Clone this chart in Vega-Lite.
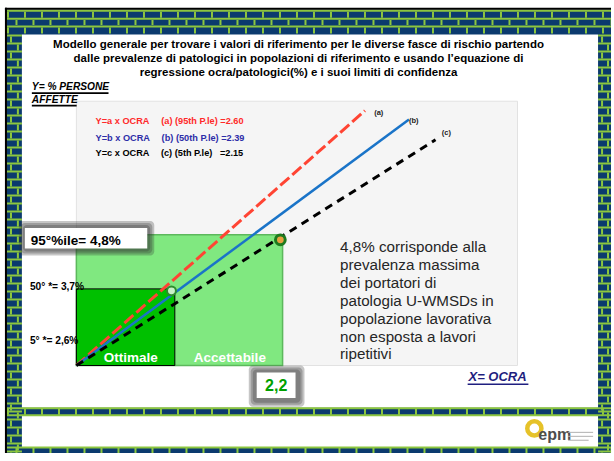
{
"$schema": "https://vega.github.io/schema/vega-lite/v6.json",
"width": 614, "height": 461,
"autosize": {"type": "fit", "contains": "padding"},
"padding": 0,
"background": "white",
"config": {"view": {"stroke": null}, "text": {"font": "Liberation Sans"}},
"encoding": {
  "x": {"field": "X", "type": "quantitative", "scale": {"domain": [-0.82, 5.74], "nice": false, "zero": false}, "axis": null},
  "y": {"field": "Y", "type": "quantitative", "scale": {"domain": [0.1, 10.04], "nice": false, "zero": false}, "axis": null}
},
"layer": [
  {"data": {"values": [{"X": -0.745, "X2": 5.74, "Y": 9.824, "Y2": 0.1}]},
   "mark": {"type": "rect", "fill": "#0b3a6e"},
   "encoding": {"x2": {"field": "X2"}, "y2": {"field": "Y2"}}},
  {"data": {"values": [{"X": -0.585, "X2": 5.601, "Y": 9.285, "Y2": 1.092}, {"X": -0.585, "X2": 5.601, "Y": 0.919, "Y2": 0.229}]},
   "mark": {"type": "rect", "fill": "white"},
   "encoding": {"x2": {"field": "X2"}, "y2": {"field": "Y2"}}},
  {"data": {"values": [{"X": -0.745, "X2": 5.74, "Y": 9.803}, {"X": -0.745, "X2": 5.74, "Y": 9.630}, {"X": -0.745, "X2": 5.74, "Y": 9.458}, {"X": -0.745, "X2": 5.74, "Y": 1.081}, {"X": -0.745, "X2": 5.74, "Y": 0.93}, {"X": -0.745, "X2": 5.74, "Y": 0.218}]},
   "mark": {"type": "rule", "stroke": "#8cc63f", "strokeWidth": 2},
   "encoding": {"x2": {"field": "X2"}}},
  {"data": {"values": [{"X": -0.745, "X2": 5.74, "Y": 9.717}, {"X": -0.745, "X2": 5.74, "Y": 9.372}, {"X": -0.745, "X2": 5.74, "Y": 1.006}]},
   "mark": {"type": "rule", "stroke": "#8cc63f", "strokeWidth": 6, "strokeDash": [2, 15], "strokeDashOffset": 0},
   "encoding": {"x2": {"field": "X2"}}},
  {"data": {"values": [{"X": -0.745, "X2": 5.74, "Y": 9.544}, {"X": -0.745, "X2": 5.74, "Y": 0.155}]},
   "mark": {"type": "rule", "stroke": "#8cc63f", "strokeWidth": 5, "strokeDash": [2, 15], "strokeDashOffset": 8.5},
   "encoding": {"x2": {"field": "X2"}}},
  {"data": {"values": [{"X": -0.665, "Y": 9.285, "Y2": 0.1}]},
   "mark": {"type": "rule", "stroke": "#8cc63f", "strokeWidth": 15, "strokeDash": [2, 6]},
   "encoding": {"y2": {"field": "Y2"}}},
  {"data": {"values": [{"X": 5.671, "Y": 9.285, "Y2": 0.1}]},
   "mark": {"type": "rule", "stroke": "#8cc63f", "strokeWidth": 13, "strokeDash": [2, 6]},
   "encoding": {"y2": {"field": "Y2"}}},
  {"data": {"values": [{"X": -0.702, "Y": 9.285, "Y2": 0.1}, {"X": 5.644, "Y": 9.285, "Y2": 0.1}]},
   "mark": {"type": "rule", "stroke": "#8cc63f", "strokeWidth": 2, "strokeDash": [6, 10], "strokeDashOffset": 14},
   "encoding": {"y2": {"field": "Y2"}}},
  {"data": {"values": [{"X": -0.628, "Y": 9.285, "Y2": 0.1}, {"X": 5.708, "Y": 9.285, "Y2": 0.1}]},
   "mark": {"type": "rule", "stroke": "#8cc63f", "strokeWidth": 2, "strokeDash": [6, 10], "strokeDashOffset": 6},
   "encoding": {"y2": {"field": "Y2"}}},
  {"data": {"values": [{"X": -0.767, "X2": 5.74, "Y": 9.868, "Y2": 9.824}, {"X": -0.767, "X2": -0.745, "Y": 9.868, "Y2": 0.1}]},
   "mark": {"type": "rect", "fill": "black"},
   "encoding": {"x2": {"field": "X2"}, "y2": {"field": "Y2"}}},

  {"data": {"values": [{"X": 0, "X2": 4.736, "Y": 2.02, "Y2": 7.819}]},
   "mark": {"type": "rect", "fill": "#f5f5f5", "stroke": "#e2e2e2", "strokeWidth": 1},
   "encoding": {"x2": {"field": "X2"}, "y2": {"field": "Y2"}}},
  {"data": {"values": [{"X": 0, "X2": 2.214, "Y": 2.02, "Y2": 4.887}]},
   "mark": {"type": "rect", "fill": "#80e880", "stroke": "#5cb85c", "strokeWidth": 1.5},
   "encoding": {"x2": {"field": "X2"}, "y2": {"field": "Y2"}}},
  {"data": {"values": [{"X": 0, "X2": 1.057, "Y": 2.02, "Y2": 3.701}]},
   "mark": {"type": "rect", "fill": "#00c000", "stroke": "black", "strokeWidth": 1},
   "encoding": {"x2": {"field": "X2"}, "y2": {"field": "Y2"}}},

  {"data": {"values": [{"X": 0, "Y": 2.02, "X2": 3.098, "Y2": 7.61}]},
   "mark": {"type": "rule", "stroke": "#ff4433", "strokeWidth": 3, "strokeDash": [12, 4]},
   "encoding": {"x2": {"field": "X2"}, "y2": {"field": "Y2"}}},
  {"data": {"values": [{"X": 0, "Y": 2.02, "X2": 3.571, "Y2": 7.416}]},
   "mark": {"type": "rule", "stroke": "#1a74c8", "strokeWidth": 2.5},
   "encoding": {"x2": {"field": "X2"}, "y2": {"field": "Y2"}}},
  {"data": {"values": [{"X": 0, "Y": 2.02, "X2": 3.856, "Y2": 6.972}]},
   "mark": {"type": "rule", "stroke": "black", "strokeWidth": 3, "strokeDash": [8, 6]},
   "encoding": {"x2": {"field": "X2"}, "y2": {"field": "Y2"}}},

  {"data": {"values": [{"X": 1.021, "Y": 3.658}]},
   "mark": {"type": "point", "shape": "circle", "size": 80, "filled": true, "fill": "#c8f0c8", "stroke": "#2e8b2e", "strokeWidth": 2, "opacity": 1}},
  {"data": {"values": [{"X": 2.19, "Y": 4.779}]},
   "mark": {"type": "point", "shape": "circle", "size": 95, "filled": true, "fill": "#e8a040", "stroke": "#1e7a1e", "strokeWidth": 3, "opacity": 1}},

  {"data": {"values": [{"X": 3.197, "Y": 7.56, "t": "(a)"}, {"X": 3.571, "Y": 7.388, "t": "(b)"}, {"X": 3.924, "Y": 7.129, "t": "(c)"}]},
   "mark": {"type": "text", "align": "left", "baseline": "middle", "fontSize": 7.5, "fontWeight": "bold", "fill": "#222222"},
   "encoding": {"text": {"field": "t"}}},

  {"data": {"values": [{"X": 0.206, "Y": 7.381, "t": "Y=a x OCRA"}, {"X": 0.911, "Y": 7.381, "t": "(a) (95th P.le) =2.60"}]},
   "mark": {"type": "text", "align": "left", "baseline": "middle", "fontSize": 9.2, "fontWeight": "bold", "fill": "#ff2a2a"},
   "encoding": {"text": {"field": "t"}}},
  {"data": {"values": [{"X": 0.206, "Y": 7.021, "t": "Y=b x OCRA"}, {"X": 0.915, "Y": 7.021, "t": "(b) (50th P.le) =2.39"}]},
   "mark": {"type": "text", "align": "left", "baseline": "middle", "fontSize": 9.2, "fontWeight": "bold", "fill": "#2d2da8"},
   "encoding": {"text": {"field": "t"}}},
  {"data": {"values": [{"X": 0.206, "Y": 6.676, "t": "Y=c x OCRA"}, {"X": 0.908, "Y": 6.676, "t": "(c) (5th P.le)"}, {"X": 1.541, "Y": 6.676, "t": "=2.15"}]},
   "mark": {"type": "text", "align": "left", "baseline": "middle", "fontSize": 9.2, "fontWeight": "bold", "fill": "black"},
   "encoding": {"text": {"field": "t"}}},

  {"data": {"values": [{"X": 2.385, "Y": 9.048, "t": "Modello generale per trovare i  valori di riferimento per le diverse fasce di rischio partendo"}, {"X": 2.385, "Y": 8.746, "t": "dalle prevalenze di patologici  in popolazioni di riferimento  e usando l’equazione di"}, {"X": 2.385, "Y": 8.444, "t": "regressione ocra/patologici(%) e i suoi limiti di confidenza"}]},
   "mark": {"type": "text", "align": "center", "baseline": "middle", "fontSize": 11.5, "fontWeight": "bold", "fill": "black"},
   "encoding": {"text": {"field": "t"}}},

  {"data": {"values": [{"X": -0.478, "Y": 8.121, "t": "Y= % PERSONE"}, {"X": -0.478, "Y": 7.847, "t": "AFFETTE"}]},
   "mark": {"type": "text", "align": "left", "baseline": "middle", "fontSize": 10.2, "fontWeight": "bold", "fontStyle": "italic", "fill": "black"},
   "encoding": {"text": {"field": "t"}}},
  {"data": {"values": [{"X": -0.478, "X2": 0.345, "Y": 7.995}, {"X": -0.478, "X2": 0.003, "Y": 7.722}]},
   "mark": {"type": "rule", "stroke": "black", "strokeWidth": 1.8},
   "encoding": {"x2": {"field": "X2"}}},

  {"data": {"values": [{"X": -0.499, "Y": 3.744, "t": "50° *= 3,7%"}, {"X": -0.499, "Y": 2.558, "t": "5° *= 2,6%"}]},
   "mark": {"type": "text", "align": "left", "baseline": "middle", "fontSize": 10.2, "fontWeight": "bold", "fill": "black"},
   "encoding": {"text": {"field": "t"}}},

  {"data": {"values": [{"X": 0.585, "Y": 2.185, "t": "Ottimale"}, {"X": 1.648, "Y": 2.185, "t": "Accettabile"}]},
   "mark": {"type": "text", "align": "center", "baseline": "middle", "fontSize": 13.5, "fontWeight": "bold", "fill": "white"},
   "encoding": {"text": {"field": "t"}}},

  {"data": {"values": [{"X": -0.617, "X2": 0.836, "Y": 5.189, "Y2": 4.434}, {"X": -0.596, "X2": 0.815, "Y": 5.146, "Y2": 4.477}, {"X": -0.574, "X2": 0.793, "Y": 5.102, "Y2": 4.52}, {"X": 1.851, "X2": 2.449, "Y": 2.019, "Y2": 1.113}, {"X": 1.872, "X2": 2.428, "Y": 1.976, "Y2": 1.156}, {"X": 1.894, "X2": 2.407, "Y": 1.933, "Y2": 1.2}]},
   "mark": {"type": "rect", "fill": "#333333", "opacity": 0.28, "cornerRadius": 4},
   "encoding": {"x2": {"field": "X2"}, "y2": {"field": "Y2"}}},
  {"data": {"values": [{"X": -0.553, "X2": 0.761, "Y": 5.038, "Y2": 4.585}, {"X": 1.936, "X2": 2.353, "Y": 1.868, "Y2": 1.307}]},
   "mark": {"type": "rect", "fill": "white"},
   "encoding": {"x2": {"field": "X2"}, "y2": {"field": "Y2"}}},
  {"data": {"values": [{"X": -0.489, "Y": 4.757, "t": "95°%ile= 4,8%"}]},
   "mark": {"type": "text", "align": "left", "baseline": "middle", "fontSize": 13.5, "fontWeight": "bold", "fill": "black"},
   "encoding": {"text": {"field": "t"}}},
  {"data": {"values": [{"X": 2.145, "Y": 1.566, "t": "2,2"}]},
   "mark": {"type": "text", "align": "center", "baseline": "middle", "fontSize": 16, "fontWeight": "bold", "fill": "#00a000"},
   "encoding": {"text": {"field": "t"}}},

  {"data": {"values": [{"X": 2.831, "Y": 4.613, "t": "4,8% corrisponde alla"}, {"X": 2.831, "Y": 4.218, "t": "prevalenza massima"}, {"X": 2.831, "Y": 3.837, "t": "dei portatori di"}, {"X": 2.831, "Y": 3.442, "t": "patologia U-WMSDs in"}, {"X": 2.831, "Y": 3.047, "t": "popolazione lavorativa"}, {"X": 2.831, "Y": 2.651, "t": "non esposta a lavori"}, {"X": 2.831, "Y": 2.263, "t": "ripetitivi"}]},
   "mark": {"type": "text", "align": "left", "baseline": "middle", "fontSize": 15.2, "fill": "#262626"},
   "encoding": {"text": {"field": "t"}}},

  {"data": {"values": [{"X": 4.522, "Y": 1.76, "t": "X= OCRA"}]},
   "mark": {"type": "text", "align": "center", "baseline": "middle", "fontSize": 13, "fontWeight": "bold", "fontStyle": "italic", "fill": "#1f1f80"},
   "encoding": {"text": {"field": "t"}}},
  {"data": {"values": [{"X": 4.201, "X2": 4.853, "Y": 1.609}]},
   "mark": {"type": "rule", "stroke": "#1f1f80", "strokeWidth": 1.5},
   "encoding": {"x2": {"field": "X2"}}},

  {"data": {"values": [{"X": 4.917, "Y": 0.639}]},
   "mark": {"type": "point", "shape": "circle", "size": 200, "filled": false, "stroke": "#e6c229", "strokeWidth": 4.5, "opacity": 1}},
  {"data": {"values": [{"X": 4.96, "Y": 0.488, "t": "epm"}]},
   "mark": {"type": "text", "align": "left", "baseline": "middle", "fontSize": 16, "fontWeight": "bold", "fill": "#4d4d4d"},
   "encoding": {"text": {"field": "t"}}},
  {"data": {"values": [{"X": 5.28, "X2": 5.548, "Y": 0.553}, {"X": 5.28, "X2": 5.548, "Y": 0.466}, {"X": 5.28, "X2": 5.5, "Y": 0.38}]},
   "mark": {"type": "rule", "stroke": "#b0b0b0", "strokeWidth": 1},
   "encoding": {"x2": {"field": "X2"}}}
]
}
